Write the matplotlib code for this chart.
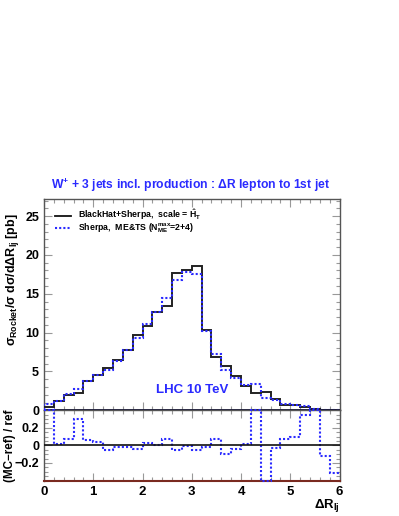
import numpy as np
import matplotlib
matplotlib.use("Agg")
import matplotlib.pyplot as plt
from matplotlib.ticker import MultipleLocator

plt.rcParams['font.family'] = ['Liberation Sans', 'DejaVu Sans']
plt.rcParams['mathtext.fontset'] = 'custom'
plt.rcParams['mathtext.rm'] = 'Liberation Sans:bold'
plt.rcParams['mathtext.it'] = 'Liberation Sans:bold'
plt.rcParams['mathtext.bf'] = 'Liberation Sans:bold'

# ---- data ----
bin_edges = np.round(np.arange(0, 6.0001, 0.2), 2)
blackhat_sherpa = [0.38, 1.22, 1.93, 2.19, 3.72, 4.53, 5.43, 6.5, 7.8, 9.64,
                   10.85, 12.6, 13.4, 17.67, 18.0, 18.58, 10.35, 6.8, 5.71, 4.4,
                   3.16, 2.2, 2.4, 1.44, 0.72, 0.62, 0.43, 0.15, 0.06, 0.03]
sherpa_mets = [0.77, 1.22, 2.06, 2.75, 3.8, 4.6, 5.2, 6.4, 7.7, 9.3,
               11.08, 12.7, 14.43, 16.71, 17.83, 17.53, 10.2, 7.26, 5.2, 4.22,
               3.2, 3.35, 1.55, 1.36, 0.75, 0.72, 0.55, 0.22, 0.05, 0.02]
ratio_sherpa = [0.4, 0.015, 0.076, 0.30, 0.061, 0.034, -0.05, -0.019, -0.019, -0.046,
                0.023, 0.008, 0.076, -0.053, -0.008, -0.053, -0.015, 0.076, -0.095, -0.038,
                0.015, 0.4, -0.4, -0.027, 0.076, 0.099, 0.347, 0.4, -0.118, -0.309]
x_ticks = [0, 1, 2, 3, 4, 5, 6]
main_yticks = [0, 5, 10, 15, 20, 25]
ratio_yticks = [-0.2, 0, 0.2]

BLUE = '#2a2aff'
FRAME = '#555555'
TICKC = '#999999'

W, H = 399, 516
fig = plt.figure(figsize=(W / 100, H / 100), dpi=100)

def fx(px):
    return px / W

def fy(py):
    return 1 - py / H

L, R = 44, 339.5
ax = fig.add_axes([fx(L), fy(410.3), fx(R - L), fy(199) - fy(410.3)])
axr = fig.add_axes([fx(L), fy(480.5), fx(R - L), fy(410.3) - fy(480.5)])

for a in (ax, axr):
    a.set_xlim(0, 6)
    a.xaxis.set_major_locator(MultipleLocator(1))
    a.xaxis.set_minor_locator(MultipleLocator(0.2))
    a.tick_params(which='both', direction='in', top=True, right=True, color=TICKC,
                  labelsize=9)
    a.tick_params(which='major', length=6, width=0.8)
    a.tick_params(which='minor', length=3, width=0.8)
    for s in a.spines.values():
        s.set_color(FRAME)
        s.set_linewidth(1.0)

# main panel
ax.stairs(blackhat_sherpa, bin_edges, color='#222222', lw=1.4, zorder=3)
ax.stairs(sherpa_mets, bin_edges, color=BLUE, lw=1.5, ls=(0, (1, 1)), zorder=4)
ax.set_ylim(0, 27.2)
ax.set_yticks(main_yticks)
ax.yaxis.set_minor_locator(MultipleLocator(1))
ax.set_yticklabels([str(v) for v in main_yticks], fontweight='bold')
ax.tick_params(axis='x', labelbottom=False)
ax.axhline(0, color='#111133', lw=1.3, zorder=5)

fig.text(fx(190), fy(185), r'W$^{+}$ + 3 jets incl. production : $\Delta$R lepton to 1st jet',
         color=BLUE, fontweight='bold', fontsize=8.7, ha='center', va='center')

# legend (manual)
ax.plot([fx(55), fx(71)], [fy(215.5)] * 2, transform=fig.transFigure, color='#111111', lw=1.3,
        clip_on=False)
ax.plot([fx(55), fx(71)], [fy(228)] * 2, transform=fig.transFigure, color=BLUE, lw=1.5,
        ls=(0, (1, 1)), clip_on=False)
fig.text(fx(78), fy(215), r'BlackHat+Sherpa,  scale = $\hat{H}_{T}$', fontsize=6.3,
         fontweight='bold', va='center', ha='left')
fig.text(fx(78), fy(228.5), r'Sherpa,  ME&TS (N$_{ME}^{max}$=2+4)', fontsize=6.3,
         fontweight='bold', va='center', ha='left')

fig.text(fx(192), fy(390), 'LHC 10 TeV', color=BLUE, fontsize=9.5, fontweight='bold',
         ha='center', va='center')

fig.text(fx(13), fy(280), r'$\sigma_{Rocket}/\sigma$ d$\sigma$/d$\Delta$R$_{lj}$ [pb]',
         rotation=90, fontsize=9, fontweight='bold', ha='center', va='center')

# ratio panel
axr.stairs(ratio_sherpa, bin_edges, color=BLUE, lw=1.5, ls=(0, (1, 1)), baseline=None,
           clip_on=False, zorder=3)
axr.axhline(0, color='#111111', lw=1.2, zorder=4)
axr.set_ylim(-0.4, 0.4)
axr.set_yticks(ratio_yticks)
axr.yaxis.set_minor_locator(MultipleLocator(0.05))
axr.set_yticklabels(['\u22120.2', '0', '0.2'], fontweight='bold')
axr.set_xticks(x_ticks)
axr.set_xticklabels([str(v) for v in x_ticks], fontweight='bold', fontsize=9.5)
axr.tick_params(axis='x', pad=4)
axr.spines['bottom'].set_color('#7a2a20')
axr.spines['bottom'].set_linewidth(1.5)

fig.text(fx(10.5), fy(446), '(MC\u2212ref) / ref', rotation=90, fontsize=8.4, fontweight='bold',
         ha='center', va='center')
fig.text(fx(340), fy(505), r'$\Delta$R$_{lj}$', fontsize=9.5, fontweight='bold',
         ha='right', va='center')

fig.savefig('out.png', dpi=100)
